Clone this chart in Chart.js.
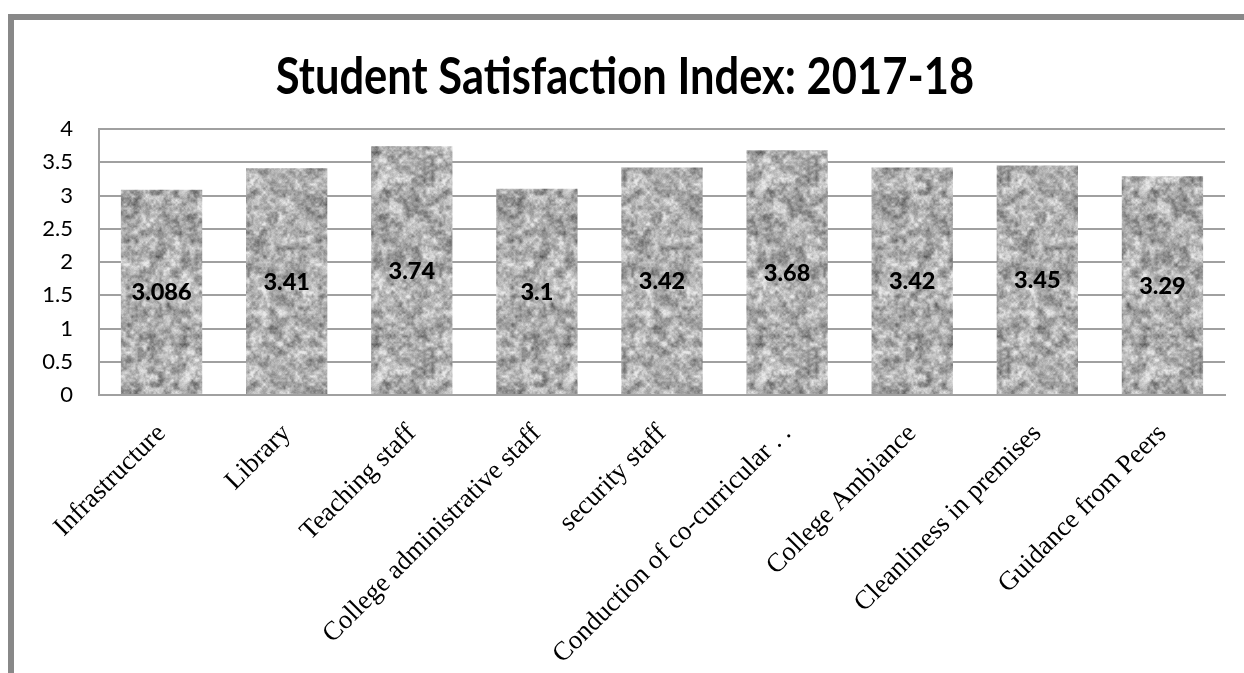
<!DOCTYPE html>
<html>
<head>
<meta charset="utf-8">
<script src="https://cdn.jsdelivr.net/npm/chart.js@4.4.1/dist/chart.umd.min.js"></script>
<style>
    html, body { margin: 0; padding: 0; background: #fff; overflow: hidden; }
    #frame {
        position: absolute; left: 8px; top: 14px; width: 1400px; height: 900px;
        border-left: 6px solid #888; border-top: 6px solid #888;
    }
    #wrap { position: absolute; left: 0; top: 0; width: 1244px; height: 673px; }
</style>
</head>
<body>
<div id="frame"></div>
<div id="wrap"><canvas id="ssiChart"></canvas></div>
<script>
    // Student Satisfaction Index 2017-18
    const categories = [
        'Infrastructure', 'Library', 'Teaching staff', 'College administrative staff',
        'security staff', 'Conduction of co-curricular . .', 'College Ambiance',
        'Cleanliness in premises', 'Guidance from Peers'
    ];
    const scores = [3.086, 3.41, 3.74, 3.1, 3.42, 3.68, 3.42, 3.45, 3.29];
    const scoreLabels = ['3.086', '3.41', '3.74', '3.1', '3.42', '3.68', '3.42', '3.45', '3.29'];
    const yTicks = [0, 0.5, 1, 1.5, 2, 2.5, 3, 3.5, 4];
    const yTickLabels = ['0', '0.5', '1', '1.5', '2', '2.5', '3', '3.5', '4'];
    const titleText = 'Student Satisfaction Index: 2017-18';

    // granite-like texture for the bars, tiles seamlessly (seeded so every run looks the same)
    function makeGranite() {
        let seed = 20171;
        const rnd = () => { seed = (seed * 16807) % 2147483647; return seed / 2147483647; };
        const S = 192;
        function grid(n) {
            const g = [];
            for (let i = 0; i < n * n; i++) g.push(rnd());
            return g;
        }
        function sample(g, n, x, y) {
            const fx = x * n / S, fy = y * n / S;
            const x0 = Math.floor(fx), y0 = Math.floor(fy);
            let tx = fx - x0, ty = fy - y0;
            tx = tx * tx * (3 - 2 * tx); ty = ty * ty * (3 - 2 * ty);
            const x1 = (x0 + 1) % n, y1 = (y0 + 1) % n;
            const a = g[y0 * n + x0], b = g[y0 * n + x1], c = g[y1 * n + x0], d = g[y1 * n + x1];
            return (a * (1 - tx) + b * tx) * (1 - ty) + (c * (1 - tx) + d * tx) * ty;
        }
        const g1 = grid(24), g2 = grid(48), g3 = grid(96);
        const cv = document.createElement('canvas');
        cv.width = S; cv.height = S;
        const c = cv.getContext('2d');
        const img = c.createImageData(S, S);
        for (let y = 0; y < S; y++) {
            for (let x = 0; x < S; x++) {
                let v = 0.4 * sample(g1, 24, x, y) + 0.35 * sample(g2, 48, x, y) + 0.25 * sample(g3, 96, x, y);
                v = 172 + (v - 0.5) * 180 + (rnd() - 0.5) * 14;
                v = Math.max(85, Math.min(232, v));
                const k = (y * S + x) * 4;
                img.data[k] = v; img.data[k + 1] = v; img.data[k + 2] = v; img.data[k + 3] = 255;
            }
        }
        c.putImageData(img, 0, 0);
        return c.createPattern(cv, 'repeat');
    }

    // values written in the middle of each bar
    const valueLabels = {
        id: 'valueLabels',
        afterDatasetsDraw(chart) {
            const ctx = chart.ctx;
            const meta = chart.getDatasetMeta(0);
            ctx.save();
            ctx.font = '900 23.5px Lato';
            ctx.fillStyle = '#000';
            ctx.textAlign = 'center';
            ctx.textBaseline = 'middle';
            meta.data.forEach((bar, i) => {
                ctx.fillText(scoreLabels[i], bar.x, (bar.y + bar.base) / 2 + 1);
            });
            ctx.restore();
        }
    };

    // title is drawn a bit taller than wide, like the original
    const tallTitle = {
        id: 'tallTitle',
        afterDraw(chart) {
            const ctx = chart.ctx;
            ctx.save();
            ctx.font = 'bold 43.5px Lato';
            ctx.fillStyle = '#000';
            ctx.textAlign = 'center';
            ctx.textBaseline = 'alphabetic';
            ctx.translate(625, 94);
            ctx.scale(1, 1.2);
            ctx.fillText(titleText, 0, 0);
            ctx.restore();
        }
    };

    const ctx = document.getElementById('ssiChart').getContext('2d');
    new Chart(ctx, {
        type: 'bar',
        data: {
            labels: categories,
            datasets: [{
                label: 'Score',
                data: scores,
                backgroundColor: makeGranite(),
                borderWidth: 0,
                categoryPercentage: 1,
                barPercentage: 0.65
            }]
        },
        options: {
            responsive: true,
            maintainAspectRatio: false,
            animation: false,
            layout: { padding: { left: 20, right: 19, top: 129, bottom: 0 } },
            plugins: {
                legend: { display: false },
                tooltip: { enabled: false },
                title: { display: false }
            },
            scales: {
                y: {
                    min: 0,
                    max: 4,
                    afterBuildTicks: function(scale) {
                        scale.ticks = yTicks.map(v => ({ value: v }));
                    },
                    afterFit: function(scale) { scale.width = 79; },
                    ticks: {
                        color: '#000',
                        font: { family: 'Lato', size: 22 },
                        padding: 26,
                        callback: function(value) {
                            return yTickLabels[yTicks.indexOf(value)];
                        }
                    },
                    grid: { color: '#a0a0a0', lineWidth: 2, drawTicks: false },
                    border: { color: '#a0a0a0', width: 2 }
                },
                x: {
                    afterFit: function(scale) { scale.height = 278; },
                    ticks: {
                        color: '#000',
                        font: { family: 'Liberation Serif', size: 26.7 },
                        minRotation: 45,
                        maxRotation: 45,
                        autoSkip: false,
                        padding: 15
                    },
                    grid: { display: false },
                    border: { color: '#a0a0a0', width: 2 }
                }
            }
        },
        plugins: [valueLabels, tallTitle]
    });
</script>
</body>
</html>
